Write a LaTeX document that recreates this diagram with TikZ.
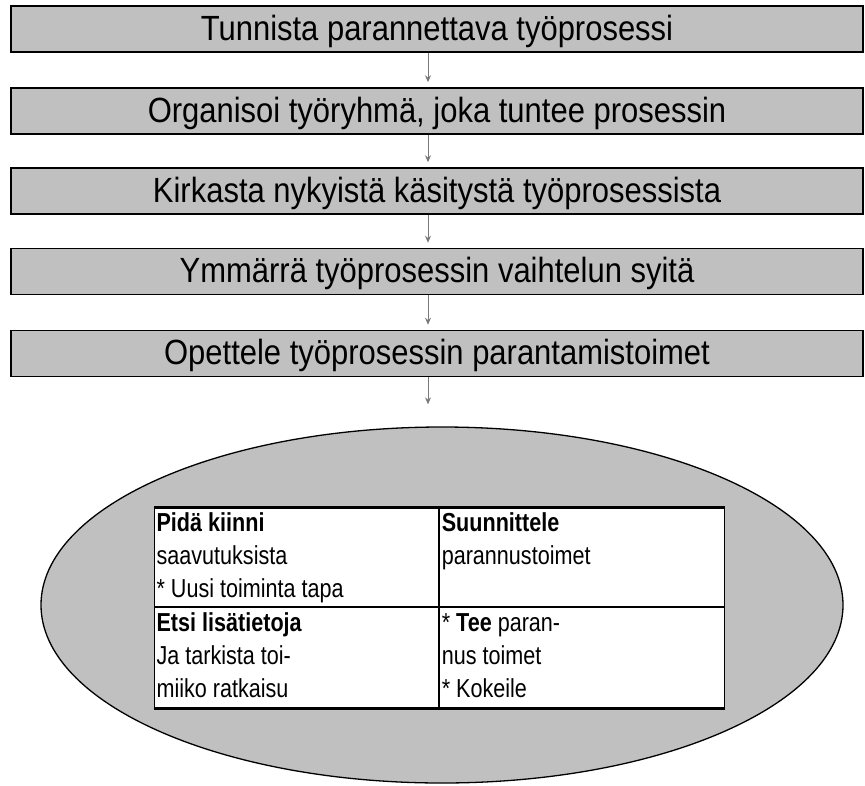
\documentclass[tikz,border=0pt]{standalone}
\usepackage{fontspec}
\setmainfont{Liberation Sans}
\newfontfamily\stepfont[FakeStretch=0.885]{Liberation Sans}
\newfontfamily\cellfont[FakeStretch=0.83]{Liberation Sans}
\usetikzlibrary{arrows.meta,shapes.geometric}
\definecolor{boxgray}{HTML}{C0C0C0}
\definecolor{arrowgray}{HTML}{7A7A7A}
% cell contents: height, width, lines
\newcommand{\celltext}[3]{\parbox[c][#1][t]{#2}{\cellfont\fontsize{26}{33}\selectfont\leftskip=2pt\rule{0pt}{24pt}#3}}
\begin{document}
\begin{tikzpicture}[x=1pt, y=-1pt,
    stepbox/.style={draw, fill=boxgray, line width=1.5pt, minimum width=852pt, minimum height=46pt,
        inner sep=0pt, text height=25pt, text depth=3pt, font=\stepfont\fontsize{35}{40}\selectfont},
    flow/.style={draw=arrowgray, line width=1pt, shorten >=5pt, -{Stealth[length=7pt,width=6pt]}},
    cell/.style={draw, line width=1.2pt, fill=white, inner sep=0pt, anchor=north west}]
\useasboundingbox (0,0) rectangle (865,785);
\node[stepbox] (B1) at (437,29)    {Tunnista parannettava työprosessi};
\node[stepbox] (B2) at (437,111)   {Organisoi työryhmä, joka tuntee prosessin};
\node[stepbox] (B3) at (437,191)   {Kirkasta nykyistä käsitystä työprosessista};
\node[stepbox] (B4) at (437,271.5) {Ymmärrä työprosessin vaihtelun syitä};
\node[stepbox] (B5) at (437,353.5) {Opettele työprosessin parantamistoimet};
\node[ellipse, draw, fill=boxgray, line width=1.3pt, minimum width=802pt, minimum height=356pt,
    inner sep=0pt] (E) at (442,605) {};

\node[cell] (C11) at (154,507) {\celltext{99pt}{284pt}{\textbf{Pidä kiinni}\\saavutuksista\\{}* Uusi toiminta tapa}};
\node[cell] (C12) at (C11.north east) {\celltext{99pt}{285pt}{\textbf{Suunnittele}\\parannustoimet}};
\node[cell] (C21) at (C11.south west) {\celltext{100pt}{284pt}{\textbf{Etsi lisätietoja}\\Ja tarkista toi-\\miiko ratkaisu}};
\node[cell] (C22) at (C21.north east) {\celltext{100pt}{285pt}{* \textbf{Tee} paran-\\nus toimet\\{}* Kokeile}};
\draw[line width=3pt] (C11.north west) -- (C12.north east);
\draw[line width=3pt] (C21.south west) -- (C22.south east);

\draw[flow] ([xshift=-9pt]B1.south) -- ([xshift=-9pt]B2.north);
\draw[flow] ([xshift=-9pt]B2.south) -- ([xshift=-9pt]B3.north);
\draw[flow] ([xshift=-9pt]B3.south) -- ([xshift=-9pt]B4.north);
\draw[flow] ([xshift=-9pt]B4.south) -- ([xshift=-9pt]B5.north);
\draw[flow, shorten >=22pt] ([xshift=-9pt]B5.south) -- ([xshift=-14pt]E.north);
\end{tikzpicture}
\end{document}
